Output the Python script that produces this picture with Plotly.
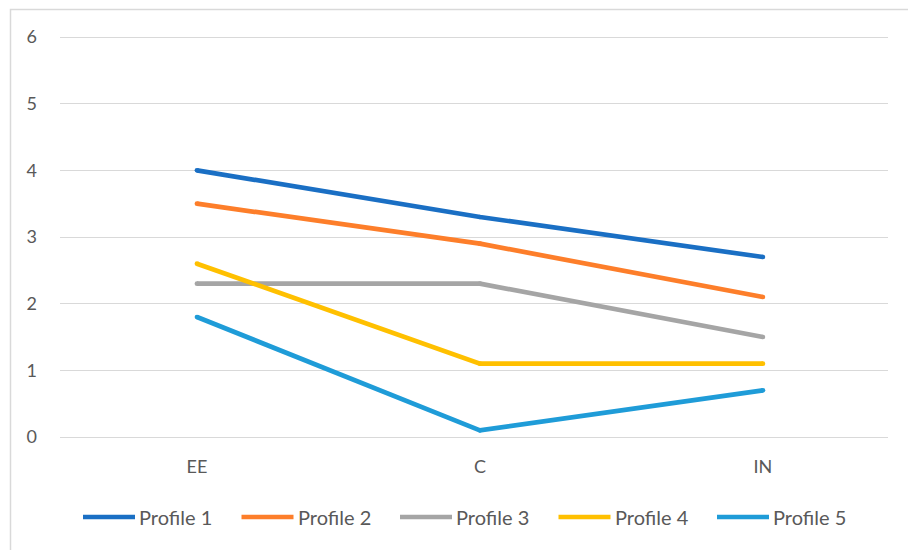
import plotly.graph_objects as go

categories = ["EE", "C", "IN"]
series_names = ["Profile 1", "Profile 2", "Profile 3", "Profile 4", "Profile 5"]
profile1 = [4.0, 3.3, 2.7]
profile2 = [3.5, 2.9, 2.1]
profile3 = [2.3, 2.3, 1.5]
profile4 = [2.6, 1.1, 1.1]
profile5 = [1.8, 0.1, 0.7]
series_values = [profile1, profile2, profile3, profile4, profile5]
colors = ["#1a6fc4", "#fd7e2a", "#a5a5a5", "#ffc000", "#1f9cd8"]
y_ticks = [0, 1, 2, 3, 4, 5, 6]

font_family = "Lato, 'Open Sans', sans-serif"
text_color = "#595959"
LW = 4.7

fig = go.Figure()
for name, vals, col in zip(series_names, series_values, colors):
    fig.add_trace(go.Scatter(
        x=categories, y=vals, name=name, mode="lines+markers",
        line=dict(color=col, width=LW),
        marker=dict(color=col, size=LW, line=dict(width=0)),
        showlegend=False,
    ))

W, H = 908, 550
ml, mr, mt, mb = 60, 20, 35, 111
pw = W - ml - mr
ph = H - mt - mb

def px_to_paper_x(px):
    return (px - ml) / pw

def px_to_paper_y(py):
    return (H - mb - py) / ph

# custom legend (Excel-like long line symbols)
shapes = []
annotations = []
leg_x0 = 83
leg_step = 158.5
leg_len = 52
leg_y = 517
for i, (name, col) in enumerate(zip(series_names, colors)):
    x0 = leg_x0 + i * leg_step
    shapes.append(dict(
        type="line", xref="paper", yref="paper",
        x0=px_to_paper_x(x0), x1=px_to_paper_x(x0 + leg_len),
        y0=px_to_paper_y(leg_y), y1=px_to_paper_y(leg_y),
        line=dict(color=col, width=LW),
    ))
    annotations.append(dict(
        text=name, xref="paper", yref="paper",
        x=px_to_paper_x(x0 + leg_len + 2), y=px_to_paper_y(leg_y),
        xanchor="left", yanchor="middle", showarrow=False,
        font=dict(family=font_family, size=20, color=text_color),
    ))

shapes.append(dict(
    type="rect", xref="paper", yref="paper",
    x0=px_to_paper_x(10.5), x1=px_to_paper_x(915),
    y0=px_to_paper_y(560), y1=px_to_paper_y(9.5),
    line=dict(color="#d9d9d9", width=1.5), fillcolor="rgba(0,0,0,0)",
    layer="below",
))

fig.update_layout(
    width=W, height=H,
    margin=dict(l=ml, r=mr, t=mt, b=mb),
    paper_bgcolor="white", plot_bgcolor="white",
    font=dict(family=font_family, size=18, color=text_color),
    showlegend=False,
    xaxis=dict(
        type="category", range=[-0.484, 2.442],
        showgrid=False, zeroline=False, showline=False, ticks="",
        tickfont=dict(size=18, color=text_color),
        ticklabelstandoff=15,
    ),
    yaxis=dict(
        range=[-0.03, 6.03], tickvals=y_ticks,
        showgrid=True, gridcolor="#d9d9d9", gridwidth=1.3,
        zeroline=False, showline=False, ticks="",
        tickfont=dict(size=18, color=text_color),
        ticklabelstandoff=22,
    ),
    shapes=shapes,
    annotations=annotations,
)

fig.write_html("out.html")
